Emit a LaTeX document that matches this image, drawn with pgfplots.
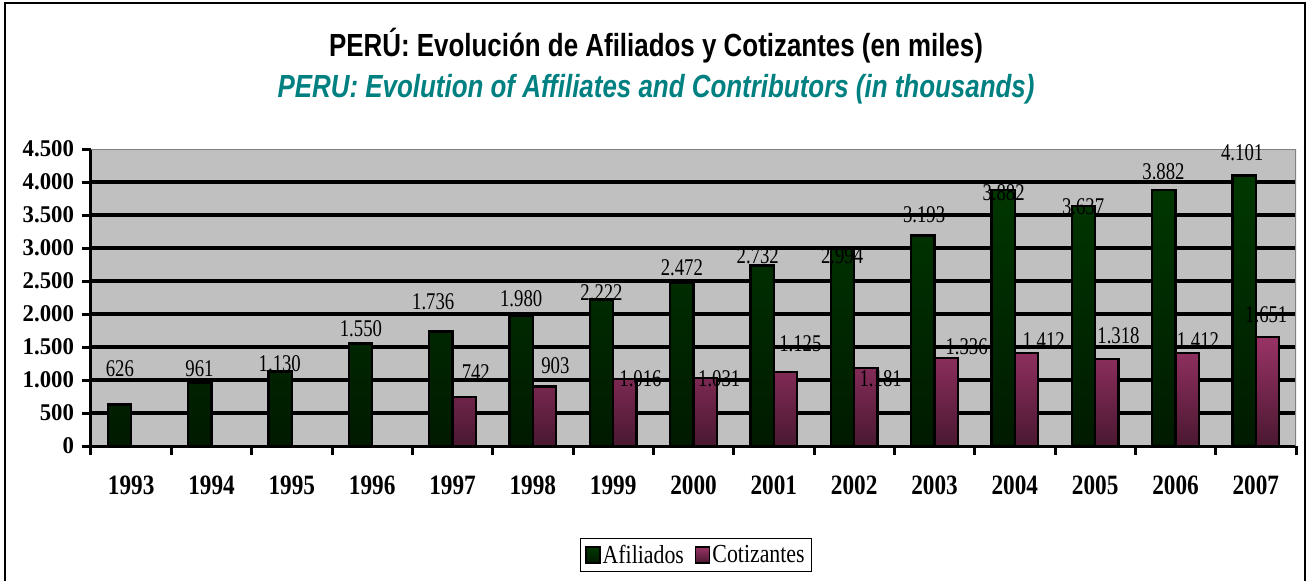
\documentclass[border=0pt]{standalone}
\usepackage{pgfplots}
\pgfplotsset{compat=1.18}
\usepackage{pgfplotstable}
\usepackage{fontspec}
\setmainfont{Liberation Serif}
\newfontfamily\titlefont[FakeStretch=0.81]{Liberation Sans}
\newfontfamily\xlabfont[FakeStretch=0.83]{Liberation Serif}
\newfontfamily\ylabfont[FakeStretch=0.95]{Liberation Serif}
\newfontfamily\valfont[FakeStretch=0.78]{Liberation Serif}
\newfontfamily\legfont[FakeStretch=0.84]{Liberation Serif}
\definecolor{gtop}{HTML}{003800}
\definecolor{gbot}{HTML}{001A00}
\definecolor{ptop}{HTML}{993366}
\definecolor{pbot}{HTML}{4A1830}
\definecolor{plotbg}{HTML}{C0C0C0}
\definecolor{teal2}{HTML}{008080}

\pgfplotstableread{
x afil
0 626
1 961
2 1130
3 1550
4 1736
5 1980
6 2222
7 2472
8 2732
9 2994
10 3193
11 3882
12 3637
13 3882
14 4101
}\afil

\pgfplotstableread{
x cot
4 742
5 903
6 1016
7 1031
8 1125
9 1181
10 1336
11 1412
12 1318
13 1412
14 1651
}\cot

\pgfplotstableread{
lx ly lab
-0.14 1178 626
0.85 1178 961
1.85 1254 1.130
2.86 1771 1.550
3.76 2181 1.736
4.855 2227 1.980
5.855 2318 2.222
6.855 2698 2.472
7.80 2880 2.732
8.85 2880 2.994
9.87 3504 3.193
10.86 3838 3.882
11.85 3625 3.637
12.85 4157 3.882
13.83 4446 4.101
}\afillab

\pgfplotstableread{
lx ly lab
4.29 1117 742
5.28 1224 903
6.34 1026 1.016
7.32 1026 1.031
8.33 1543 1.125
9.33 1026 1.181
10.40 1497 1.336
11.36 1588 1.412
12.29 1664 1.318
13.28 1588 1.412
14.13 1984 1.651
}\cotlab

\begin{document}
\begin{tikzpicture}
\path[use as bounding box] (0,0) rectangle (1312pt,581pt);
\draw[black, line width=1.2pt] (5pt,-5pt) -- (5pt,578pt) -- (1305pt,578pt) -- (1305pt,-5pt);

\node[font=\titlefont\bfseries\fontsize{32}{32}\selectfont] at (656pt,535pt) {PERÚ: Evolución de Afiliados y Cotizantes (en miles)};
\node[font=\titlefont\bfseries\itshape\fontsize{32}{32}\selectfont, text=teal2] at (656pt,492pt) {PERU: Evolution of Affiliates and Contributors (in thousands)};

\begin{axis}[
  at={(91pt,135pt)}, anchor=south west,
  width=1205pt, height=297pt, scale only axis,
  xmin=-0.5, xmax=14.5, ymin=0, ymax=4500,
  axis background/.style={fill=plotbg},
  axis x line*=bottom, axis y line*=left,
  axis line style={black, line width=3pt},
  tick align=outside,
  major tick length=8.5pt,
  tick style={black, line width=3pt},
  ytick={0,500,...,4500},
  yticklabels={0,500,1.000,1.500,2.000,2.500,3.000,3.500,4.000,4.500},
  yticklabel style={font=\ylabfont\bfseries\fontsize{24}{24}\selectfont, xshift=-5pt},
  xtick={-0.5,0.5,...,14.5},
  xticklabels={1993,1994,1995,1996,1997,1998,1999,2000,2001,2002,2003,2004,2005,2006,2007,{}},
  xticklabel style={font=\xlabfont\bfseries\fontsize{28}{28}\selectfont, xshift=40.17pt, yshift=-18pt},
  extra y ticks={500,1000,...,4000},
  extra y tick labels={},
  extra y tick style={grid=major},
  major grid style={black, line width=3.5pt},
  legend style={at={(0.502,-0.367)}, anchor=center, draw=black, line width=1pt, fill=white,
    font=\legfont\fontsize{26}{26}\selectfont, inner xsep=5pt, inner ysep=5pt,
    /tikz/every even column/.append style={column sep=9pt}},
  legend columns=2,
  legend cell align=left,
  legend image code/.code={\draw[#1, draw=black, line width=1.5pt] (0pt,-8pt) rectangle (14pt,8pt);},
]
\addplot[ybar, bar width=0.29, bar shift=-0.145, draw=black, line width=2.5pt, top color=gtop, bottom color=gbot]
  table[x=x, y=afil]{\afil};
\addlegendentry{Afiliados}
\addplot[ybar, bar width=0.29, bar shift=0.145, draw=black, line width=2.5pt, top color=ptop, bottom color=pbot]
  table[x=x, y=cot]{\cot};
\addlegendentry{Cotizantes}
\addplot[forget plot, only marks, mark=none, nodes near coords, point meta=explicit symbolic,
  nodes near coords align=center, every node near coord/.append style={font=\valfont\fontsize{24}{24}\selectfont, text=black, inner sep=0pt}]
  table[x=lx, y=ly, meta=lab]{\afillab};
\addplot[forget plot, only marks, mark=none, nodes near coords, point meta=explicit symbolic,
  nodes near coords align=center, every node near coord/.append style={font=\valfont\fontsize{24}{24}\selectfont, text=black, inner sep=0pt}]
  table[x=lx, y=ly, meta=lab]{\cotlab};
\draw[gray, line width=2.5pt] (rel axis cs:0,1) -- (rel axis cs:1,1) -- (rel axis cs:1,0);
\end{axis}
\end{tikzpicture}
\end{document}
